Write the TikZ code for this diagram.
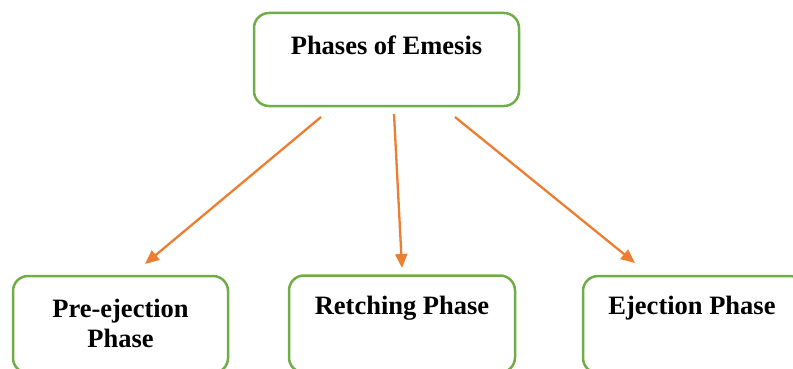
\documentclass[tikz,border=0pt]{standalone}
\usepackage{fontspec}
\setmainfont{Liberation Serif}
\usetikzlibrary{arrows.meta}
\definecolor{boxgreen}{HTML}{70AD47}
\definecolor{arrorange}{HTML}{ED7D31}
\tikzset{
  phasebox/.style={draw=boxgreen, line width=2.5pt, rounded corners=15pt, inner sep=0pt, fill=white},
  phasetext/.style={font=\bfseries\fontsize{26.5}{30}\selectfont, align=center, inner sep=0pt},
  phasearrow/.style={draw=arrorange, line width=2.3pt, -{Triangle[length=14pt,width=12pt]}}
}
\begin{document}
\begin{tikzpicture}[x=1pt,y=-1pt]
\useasboundingbox (0,0) rectangle (793,369);
\node[phasebox, minimum width=265pt, minimum height=93pt] (top) at (386.5,59.5) {};
\node[phasebox, minimum width=215pt, minimum height=97pt] (left) at (120.5,324.5) {};
\node[phasebox, minimum width=226pt, minimum height=97pt] (mid) at (402,324) {};
\node[phasebox, minimum width=222pt, minimum height=97pt] (right) at (694,324.5) {};
\node[phasetext] (toptext) at (386.5,45) {Phases of Emesis};
\node[phasetext] (lefttext) at (120.5,323) {Pre-ejection\\Phase};
\node[phasetext] (midtext) at (402,308) {Retching Phase};
\node[phasetext] (righttext) at (692,308) {Ejection Phase};
\coordinate (s1) at (321,117);
\coordinate (e1) at (145,264);
\coordinate (s2) at (394,114);
\coordinate (e2) at (402,268);
\coordinate (s3) at (455,117);
\coordinate (e3) at (635,263);
\draw[phasearrow] (s1) -- (e1);
\draw[phasearrow] (s2) -- (e2);
\draw[phasearrow] (s3) -- (e3);
\end{tikzpicture}
\end{document}
